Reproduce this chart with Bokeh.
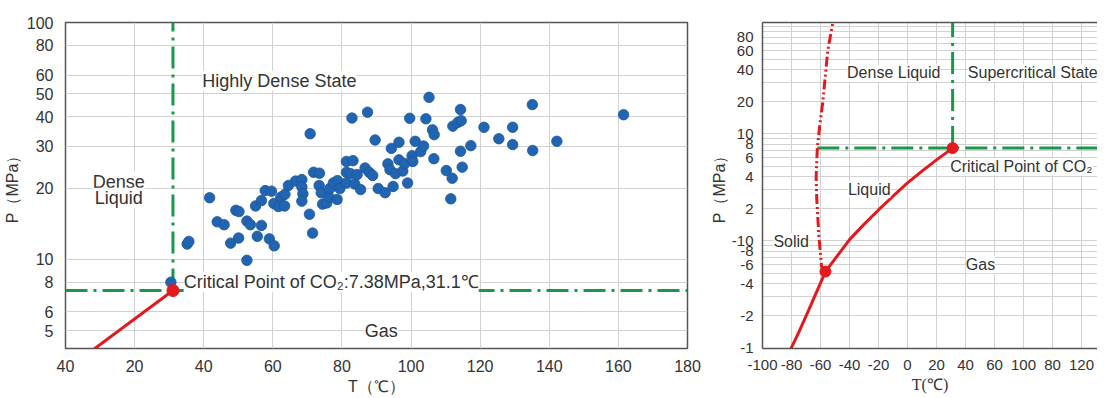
from bokeh.plotting import figure
from bokeh.models import FixedTicker, LinearAxis
from bokeh.layouts import row
from bokeh.embed import file_html
from bokeh.resources import INLINE
from bokeh.core.properties import value

# ---------------- data (left chart) ----------------
sample_T = [35.2, 35.7, 41.7, 43.9, 45.9, 47.8, 50.1, 49.3, 50.2, 52.5,
            52.5, 53.5, 55.0, 55.5, 56.7, 56.7, 57.8, 59.6, 59.0, 60.4,
            60.3, 61.6, 62.3, 63.4, 63.5, 64.5, 66.6, 68.4, 68.4, 68.7,
            68.4, 70.6, 71.5, 70.8, 71.8, 73.5, 73.4, 74.0, 74.4, 75.6,
            76.3, 76.5, 77.5, 78.7, 78.6, 79.4, 81.3, 83.2, 81.3, 82.5,
            82.9, 81.3, 83.7, 87.4, 89.6, 84.4, 85.4, 86.7, 87.9, 88.9,
            90.5, 92.5, 93.3, 93.9, 94.3, 94.8, 95.5, 96.5, 96.5, 97.6,
            98.2, 99.0, 99.6, 100.3, 100.5, 101.2, 102.8, 103.6, 104.3, 105.2,
            106.2, 106.7, 106.6, 110.2, 111.5, 111.9, 112.1, 113.6, 114.3, 114.5,
            114.3, 114.8, 117.3, 121.1, 125.4, 129.4, 129.4, 135.1, 135.2, 142.2,
            161.5, 30.5]
sample_P = [11.6, 11.9, 18.2, 14.4, 14.0, 11.7, 12.3, 16.1, 15.9, 9.9,
            14.5, 14.0, 16.8, 12.5, 13.9, 17.7, 19.5, 19.4, 12.2, 11.4,
            17.2, 16.7, 18.3, 16.8, 18.8, 20.5, 21.4, 21.7, 20.2, 18.9,
            17.6, 15.5, 12.9, 33.9, 23.3, 23.1, 20.5, 19.1, 17.1, 17.3,
            18.3, 19.9, 21.0, 21.5, 17.9, 19.9, 25.9, 26.1, 23.3, 23.0,
            39.5, 21.0, 20.8, 41.8, 31.9, 22.8, 19.7, 24.3, 23.3, 22.6,
            19.9, 19.1, 25.3, 23.9, 29.4, 20.3, 23.0, 31.2, 26.3, 23.6,
            25.4, 21.0, 39.4, 27.4, 25.9, 31.5, 28.5, 30.1, 39.2, 48.3,
            35.2, 33.6, 26.6, 23.7, 18.0, 22.0, 36.5, 37.9, 42.9, 38.5,
            28.6, 24.5, 30.2, 36.1, 32.3, 36.1, 30.5, 45.0, 28.8, 31.5,
            40.8, 8.0]

crit_T = 31.1
crit_P = 7.38
left_vap_T = [8.0, 31.1]
left_vap_P = [4.15, 7.38]

left_x_ticks = [0, 20, 40, 60, 80, 100, 120, 140, 160, 180]
left_x_labels = ["40", "20", "40", "60", "80", "100", "120", "140", "160", "180"]
left_y_ticks = [5, 6, 8, 10, 20, 30, 40, 50, 60, 80, 100]
left_y_labels = ["5", "6", "8", "10", "20", "30", "40", "50", "60", "80", "100"]

left_text = ["Highly Dense State", "Critical Point of CO\u2082:7.38MPa,31.1\u2103"]
left_text_T = [39.6, 34.2]
left_text_P = [56.8, 8.0]
left_ctext = ["Dense", "Liquid", "Gas"]
left_ctext_T = [15.4, 15.4, 91.4]
left_ctext_P = [21.3, 18.2, 4.98]

# ---------------- data (right chart) ----------------
right_vap_T = [-81.0, -75.0, -68.4, -59.5, -56.6, -50.0, -40.0, -30.0, -20.0, -10.0, 0.0, 10.0, 20.0, 31.1]
right_vap_P = [0.095, 0.14, 0.222, 0.42, 0.518, 0.68, 1.03, 1.43, 1.95, 2.62, 3.49, 4.50, 5.73, 7.38]
melt_T = [-56.6, -59.3, -61.2, -62.6, -63.0, -62.2, -60.5, -58.4, -55.0, -51.5]
melt_P = [0.518, 0.58, 1.15, 2.5, 4.0, 7.38, 12.0, 20.0, 60.0, 110.0]
triple_T = -56.6
triple_P = 0.518
melt_T_at_crit_P = -62.2

right_x_ticks = [-100, -80, -60, -40, -20, 0, 20, 40, 60, 80, 100, 120]
right_x_labels = ["-100", "-80", "-60", "-40", "-20", "0", "20", "40", "60", "100", "80", "120"]
right_y_ticks = [0.1, 0.2, 0.4, 0.6, 0.8, 1, 2, 4, 6, 8, 10, 20, 40, 60, 80]
right_y_labels = ["-1", "-2", "-4", "-6", "-8", "-10", "2", "4", "6", "8", "10", "20", "40", "60", "80"]

right_text = ["Dense Liquid", "Supercritical State", "Critical Point of CO\u2082", "Liquid", "Solid", "Gas"]
right_text_T = [-41.7, 41.6, 29.4, -41.1, -92.5, 40.2]
right_text_P = [37.2, 37.2, 4.92, 3.06, 0.98, 0.60]

# ---------------- styles ----------------
FONT = "Liberation Sans"
GREEN = "#17994a"
RED = "#e3191e"
BLUE = "#2165b0"
GRID = "#d2d2d2"
FRAME = "#555555"
TXT = "#333333"
DASHDOT = "22 6 3 6"
DASHDOTDOT = "10 3 2 3 2 3"

# ================= left figure =================
p = figure(width=707, height=398, x_range=(0, 180), y_range=(4.2, 100),
           y_axis_type="log", output_backend="svg", toolbar_location=None,
           min_border_left=55, min_border_right=20, min_border_top=22, min_border_bottom=50)
p.outline_line_color = FRAME
p.outline_line_width = 1.5
p.background_fill_color = "white"

p.xaxis.ticker = FixedTicker(ticks=left_x_ticks, minor_ticks=[])
p.yaxis.ticker = FixedTicker(ticks=left_y_ticks, minor_ticks=[])
p.xaxis.major_label_overrides = dict(zip(left_x_ticks, left_x_labels))
p.yaxis.major_label_overrides = dict(zip(left_y_ticks, left_y_labels))
for ax in (p.xaxis, p.yaxis):
    ax.axis_line_color = None
    ax.major_tick_line_color = None
    ax.minor_tick_line_color = None
    ax.major_label_text_font = FONT
    ax.major_label_text_font_size = "16px"
    ax.major_label_text_color = TXT
    ax.axis_label_text_font = FONT
    ax.axis_label_text_font_size = "16px"
    ax.axis_label_text_font_style = "normal"
    ax.axis_label_text_color = TXT
p.xaxis.major_label_standoff = 5
p.yaxis.major_label_standoff = 6
p.xaxis.axis_label = "T\uff08\u2103\uff09"
p.yaxis.axis_label = "P\uff08MPa\uff09"
p.xaxis.axis_label_standoff = 3
p.yaxis.axis_label_standoff = 3
p.grid.grid_line_color = GRID
p.grid.grid_line_width = 1

p.line([0, 180], [crit_P, crit_P], line_color=GREEN, line_width=3, line_dash=DASHDOT)
p.line([crit_T, crit_T], [crit_P, 100], line_color=GREEN, line_width=3, line_dash=DASHDOT)
p.line(left_vap_T, left_vap_P, line_color=RED, line_width=3)
p.scatter(sample_T, sample_P, size=10.5, fill_color=BLUE, line_color="#1a56a0", line_width=0.8)
p.scatter([crit_T], [crit_P], size=12, fill_color=RED, line_color=RED)

p.text(left_text_T, left_text_P, text=left_text, text_font=value(FONT), text_font_size="18px",
       text_color=TXT, text_align="left", text_baseline="middle", background_fill_color="white")
p.text(left_ctext_T, left_ctext_P, text=left_ctext, text_font=value(FONT), text_font_size="18px",
       text_color=TXT, text_align="center", text_baseline="middle", background_fill_color="white")

# ================= right figure =================
q = figure(width=390, height=398, x_range=(-100, 131), y_range=(0.099, 110),
           y_axis_type="log", output_backend="svg", toolbar_location=None,
           min_border_left=49, min_border_right=0, min_border_top=22, min_border_bottom=50)
q.outline_line_color = None
q.background_fill_color = "white"

q.xaxis.ticker = FixedTicker(ticks=right_x_ticks, minor_ticks=[])
q.yaxis.ticker = FixedTicker(ticks=right_y_ticks, minor_ticks=[])
q.xaxis.major_label_overrides = dict(zip(right_x_ticks, right_x_labels))
q.yaxis.major_label_overrides = dict(zip(right_y_ticks, right_y_labels))
for ax in (q.xaxis, q.yaxis):
    ax.axis_line_color = FRAME
    ax.axis_line_width = 1.5
    ax.major_tick_line_color = None
    ax.minor_tick_line_color = None
    ax.major_label_text_font = FONT
    ax.major_label_text_font_size = "15px"
    ax.major_label_text_color = TXT
    ax.axis_label_text_font_size = "16px"
    ax.axis_label_text_font_style = "normal"
    ax.axis_label_text_color = TXT
q.xaxis.axis_label_text_font = "Liberation Serif"
q.yaxis.axis_label_text_font = FONT
q.xaxis.major_label_standoff = 5
q.yaxis.major_label_standoff = 3
q.xaxis.axis_label = "T(\u2103)"
q.yaxis.axis_label = "P\uff08MPa\uff09"
q.xaxis.axis_label_standoff = 3
q.yaxis.axis_label_standoff = 1

top_axis = LinearAxis(ticker=FixedTicker(ticks=[], minor_ticks=[]), axis_line_color=FRAME,
                      axis_line_width=1.5, major_tick_line_color=None, minor_tick_line_color=None)
q.add_layout(top_axis, "above")

q.grid.grid_line_color = GRID
q.grid.grid_line_width = 1
decades = [0.1, 1, 10]
q.ygrid.ticker = FixedTicker(ticks=[d * m for d in decades for m in range(1, 10)] + [100])
q.xgrid.ticker = FixedTicker(ticks=right_x_ticks)

q.line([melt_T_at_crit_P, 131], [crit_P, crit_P], line_color=GREEN, line_width=3, line_dash=DASHDOT)
q.line([crit_T, crit_T], [crit_P, 110], line_color=GREEN, line_width=3, line_dash=DASHDOT)
q.line(right_vap_T, right_vap_P, line_color=RED, line_width=3)
q.line(melt_T, melt_P, line_color=RED, line_width=3, line_dash=DASHDOTDOT)
q.scatter([crit_T, triple_T], [crit_P, triple_P], size=11, fill_color=RED, line_color=RED)

q.text(right_text_T, right_text_P, text=right_text, text_font=value(FONT), text_font_size="16px",
       text_color=TXT, text_align="left", text_baseline="middle", background_fill_color="white")

layout = row(p, q)
open("out.html", "w").write(file_html(layout, INLINE))
